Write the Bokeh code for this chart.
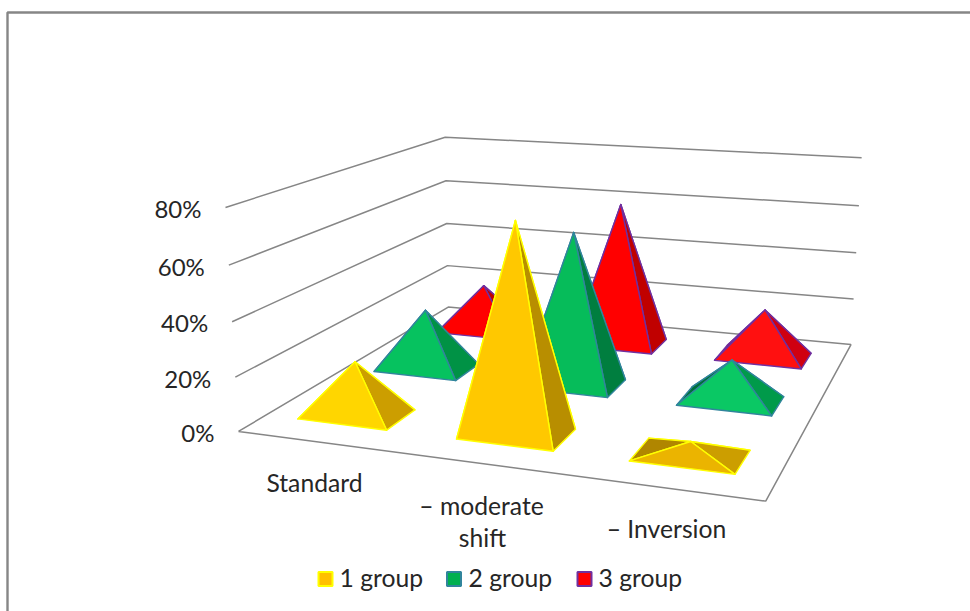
import numpy as np
from bokeh.core.properties import value
from bokeh.embed import file_html
from bokeh.models import ColumnDataSource
from bokeh.plotting import figure
from bokeh.resources import INLINE

# Chart values, percent
categories = ["Standard", "– moderate shift", "– Inversion"]
series_names = ["1 group", "2 group", "3 group"]
group_1 = [20, 76, 5]
group_2 = [24, 60, 16]
group_3 = [20, 60, 20]
axis_ticks = [0, 20, 40, 60, 80]
axis_max = 80

# Face shades for each pyramid: front, right, back and left
shades_1 = [("#FFD600", "#CC9E00", "#B88E00", "#B88E00"),
            ("#FFC800", "#B88E00", "#B88E00", "#B88E00"),
            ("#EBB400", "#CC9E00", "#B08600", "#B08600")]
shades_2 = [("#06C25F", "#009245", "#00703A", "#00703A"),
            ("#06BC5A", "#007E3F", "#00703A", "#00703A"),
            ("#0AC864", "#009A4A", "#00703A", "#00703A")]
shades_3 = [("#FF0000", "#C00000", "#A00000", "#A00000"),
            ("#FF0000", "#C00000", "#A00000", "#A00000"),
            ("#FF1010", "#D00010", "#A00000", "#A00000")]
edge_colors = ["#FFFF00", "#31859C", "#7030A0"]
legend_fills = ["#FFC000", "#00B050", "#FF0000"]
GRID = "#868686"
TEXT = "#262626"
FONT = "Lato"

# Where the box edges sit on the page: wall height -> front-left, back-left, back-right
box_edges = {0: ((238, 431), (448, 307), (849, 344)),
             20: ((235, 377), (447, 265), (854, 298)),
             40: ((232, 321), (446, 223), (857, 252)),
             60: ((228, 264), (445, 180), (859, 205)),
             80: ((225, 207), (445, 137), (860, 158))}
floor_front_right = (765, 501)


def fit_camera():
    """Projective camera mapping (u, v, h) in the unit box onto the page."""
    world, page = [], []
    for level, (fl, bl, br) in box_edges.items():
        h = level / axis_max
        world += [(0, 0, h), (0, 1, h), (1, 1, h)]
        page += [fl, bl, br]
    world.append((1, 0, 0))
    page.append(floor_front_right)
    rows = []
    for (u, v, h), (x, y) in zip(world, page):
        x, y = x / 1000, y / 1000
        rows.append([u, v, h, 1, 0, 0, 0, 0, -x * u, -x * v, -x * h, -x])
        rows.append([0, 0, 0, 0, u, v, h, 1, -y * u, -y * v, -y * h, -y])
    return np.linalg.svd(np.array(rows))[2][-1].reshape(3, 4)


CAMERA = fit_camera()


def project(u, v, pct=0.0):
    q = CAMERA @ np.array([u, v, pct / axis_max, 1.0])
    return q[0] / q[2] * 1000, q[1] / q[2] * 1000


p = figure(width=970, height=611, x_range=(0, 970), y_range=(611, 0),
           output_backend="svg", toolbar_location=None, min_border=0)
p.axis.visible = False
p.grid.visible = False
p.outline_line_color = None
p.background_fill_color = "white"
p.border_fill_color = "white"

# Chart frame
p.line([7, 7, 972], [613, 12, 12], line_color="#868686", line_width=2.4)

# Floor and wall gridlines
for t in axis_ticks:
    pts = [project(0, 0, t), project(0, 1, t), project(1, 1, t)]
    if t == 0:
        pts += [project(1, 0, 0), project(0, 0, 0)]
    p.line([a for a, _ in pts], [b for _, b in pts], line_color=GRID, line_width=1.5)

# Value labels beside the left wall
tx, ty, tl = [], [], []
for t in axis_ticks:
    x, y = project(0, 0, t)
    tx.append(x - 24)
    ty.append(y + 1)
    tl.append(f"{t}%")
p.text(tx, ty, text=tl, text_align="right", text_baseline="middle",
       text_font=value(FONT), text_font_size="24px", text_color=TEXT)

# Pyramids, back row first so nearer ones cover them
half_u, half_v = 0.095, 0.064
rows = [group_1, group_2, group_3]
shade_rows = [shades_1, shades_2, shades_3]
for s in (2, 1, 0):
    v0 = (s + 0.5) / 3
    for c in range(3):
        u0 = (c + 0.5) / 3 - 0.002
        pct = rows[s][c]
        fl = project(u0 - half_u, v0 - half_v)
        fr = project(u0 + half_u, v0 - half_v)
        br = project(u0 + half_u, v0 + half_v)
        bl = project(u0 - half_u, v0 + half_v)
        top = project(u0, v0, pct)
        front, right, back, left = shade_rows[s][c]
        faces = [((bl, br), back), ((fl, bl), left), ((fr, br), right), ((fl, fr), front)]
        src = ColumnDataSource(dict(
            xs=[[a[0], b[0], top[0]] for (a, b), _ in faces],
            ys=[[a[1], b[1], top[1]] for (a, b), _ in faces],
            fill=[col for _, col in faces]))
        p.patches("xs", "ys", source=src, fill_color="fill",
                  line_color=edge_colors[s], line_width=1.4, line_join="round")

# Category labels
label_lines = [("Standard", 314, 482), ("– moderate", 481, 505), ("shift", 482, 537), ("– Inversion", 666, 528)]
p.text([q[1] for q in label_lines], [q[2] for q in label_lines], text=[q[0] for q in label_lines],
       text_align="center", text_baseline="middle",
       text_font=value(FONT), text_font_size="24.7px", text_color=TEXT)

# Legend
swatch_x = [325, 453.5, 584]
text_x = [339, 468, 598]
p.scatter(swatch_x, [578.5] * 3, marker="square", size=14, fill_color=legend_fills,
          line_color=edge_colors, line_width=2)
p.text(text_x, [577] * 3, text=series_names, text_baseline="middle",
       text_font=value(FONT), text_font_size="24.7px", text_color=TEXT)

open("out.html", "w").write(file_html(p, INLINE))
